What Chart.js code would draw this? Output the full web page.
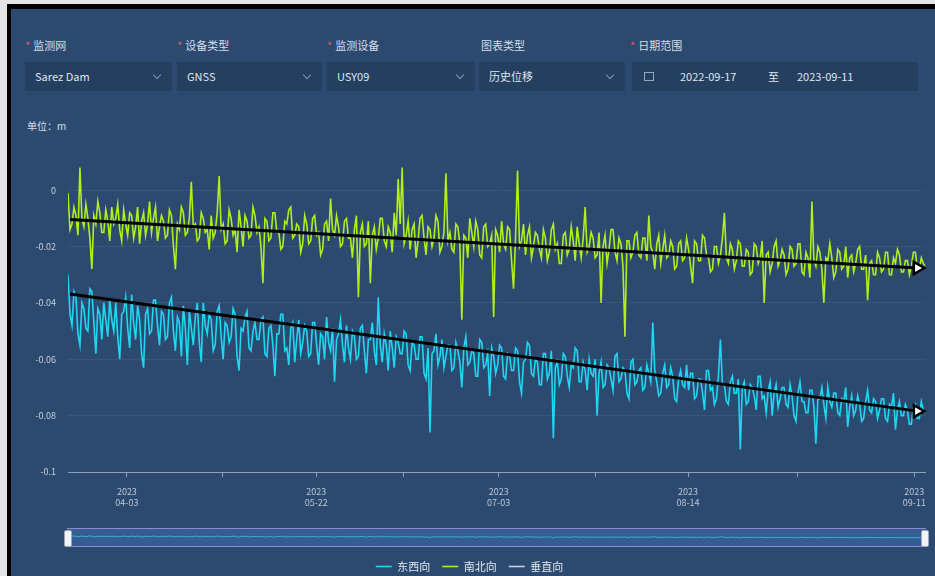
<!DOCTYPE html>
<html lang="zh-CN">
<head>
<meta charset="utf-8">
<title>历史位移</title>
<script src="https://cdn.jsdelivr.net/npm/chart.js@4.4.0/dist/chart.umd.min.js"></script>
<style>
  html, body { margin: 0; padding: 0; }
  body {
    width: 935px; height: 576px; position: relative; overflow: hidden;
    background: #e4e4e4;
    font-family: "Noto Sans CJK SC", "Noto Sans", sans-serif;
  }
  #frame { position: absolute; left: 7px; top: 4px; right: 0; bottom: 0; background: #000; }
  #panel { position: absolute; left: 11px; top: 9px; right: 0; bottom: 0; background: #2c4a6f; }
  .lbl { position: absolute; top: 38px; font-size: 11px; line-height: 14px; color: #d6dee9; }
  .lbl .req { color: #e0585b; margin-right: 3px; }
  .box {
    position: absolute; top: 62px; height: 29px; line-height: 29px;
    background: #253f60; color: #dfe6ef; font-size: 11px;
  }
  .box .txt { position: absolute; left: 10px; }
  .box .chev {
    position: absolute; right: 12px; top: 10px; width: 5px; height: 5px;
    border-right: 1px solid #8797ad; border-bottom: 1px solid #8797ad;
    transform: rotate(45deg);
  }
  .cal { position: absolute; left: 12px; top: 10px; width: 8px; height: 7px; border: 1px solid #9aa8bc; }
  #unit { position: absolute; left: 27px; top: 118px; font-size: 10px; color: #d6dee9; }
  #chartBox { position: absolute; left: 11px; top: 140px; width: 924px; height: 442px; }
  #slider {
    position: absolute; left: 67px; top: 528px; width: 859px; height: 17px;
    border-top: 1px solid rgba(196, 172, 240, 0.6);
    border-bottom: 1px solid rgba(196, 172, 240, 0.6);
    background: rgba(66, 118, 186, 0.45);
  }
  #slider canvas { position: absolute; left: 0; top: 0; }
  .handle {
    position: absolute; top: 530px; width: 6px; height: 15px; border-radius: 2px;
    background: #f2f4f8; border: 1px solid #9aa6ba;
  }
</style>
</head>
<body>
<div id="frame"></div>
<div id="panel"></div>

<div class="lbl" style="left:25px"><span class="req">*</span>监测网</div>
<div class="lbl" style="left:177px"><span class="req">*</span>设备类型</div>
<div class="lbl" style="left:327px"><span class="req">*</span>监测设备</div>
<div class="lbl" style="left:481px">图表类型</div>
<div class="lbl" style="left:630px"><span class="req">*</span>日期范围</div>

<div class="box" style="left:25px;width:147px"><span class="txt">Sarez Dam</span><span class="chev"></span></div>
<div class="box" style="left:177px;width:145px"><span class="txt">GNSS</span><span class="chev"></span></div>
<div class="box" style="left:327px;width:148px"><span class="txt">USY09</span><span class="chev"></span></div>
<div class="box" style="left:479px;width:146px"><span class="txt">历史位移</span><span class="chev"></span></div>
<div class="box" style="left:632px;width:286px">
  <span class="cal"></span>
  <span class="txt" style="left:48px">2022-09-17</span>
  <span class="txt" style="left:136px">至</span>
  <span class="txt" style="left:165px">2023-09-11</span>
</div>

<div id="unit">单位：m</div>

<div id="chartBox"><canvas id="dispChart"></canvas></div>

<div id="slider"><canvas id="zoomChart" width="859" height="17"></canvas></div>
<div class="handle" style="left:64px"></div>
<div class="handle" style="left:921px"></div>

<script>
// displacement readings in millimetres, one per sample
const eastWestMm = [
  -30, -44, -48, -36, -38, -51, -55, -40, -42, -49, -50, -35, -36, -47, -58, -42, -44, -53, -40, -46, -52, -39, -46, -50,
  -40, -52, -60, -44, -43, -38, -49, -56, -37, -47, -53, -41, -46, -58, -63, -44, -42, -51, -50, -39, -39, -48, -55, -43,
  -44, -53, -52, -40, -38, -50, -57, -45, -47, -59, -41, -49, -62, -43, -49, -55, -45, -40, -54, -61, -40, -48, -51, -44,
  -46, -57, -55, -43, -41, -52, -60, -47, -48, -54, -52, -42, -44, -59, -64, -49, -50, -45, -43, -56, -57, -50, -47, -53,
  -53, -46, -45, -58, -59, -49, -48, -55, -66, -51, -51, -44, -44, -57, -56, -62, -49, -47, -61, -53, -46, -58, -54, -48,
  -50, -59, -58, -47, -47, -55, -62, -51, -52, -60, -45, -54, -57, -49, -68, -53, -51, -46, -55, -61, -48, -56, -60, -50,
  -52, -60, -59, -49, -48, -57, -65, -53, -53, -47, -57, -62, -38, -55, -61, -51, -55, -64, -50, -56, -63, -52, -54, -58,
  -58, -50, -51, -62, -64, -54, -55, -60, -60, -52, -52, -65, -67, -56, -86, -58, -57, -51, -62, -59, -53, -63, -59, -55,
  -55, -64, -63, -54, -57, -61, -70, -56, -52, -62, -61, -57, -58, -66, -66, -53, -54, -63, -62, -58, -73, -56, -59, -65,
  -62, -55, -56, -66, -67, -58, -59, -64, -64, -56, -57, -68, -72, -61, -60, -54, -55, -65, -66, -60, -61, -69, -69, -58,
  -58, -67, -65, -57, -88, -63, -61, -69, -67, -58, -59, -66, -70, -62, -63, -56, -57, -68, -68, -61, -64, -71, -60, -65,
  -66, -60, -80, -65, -61, -70, -69, -62, -63, -67, -71, -59, -58, -68, -67, -63, -64, -72, -74, -61, -60, -69, -68, -64,
  -63, -71, -70, -62, -65, -68, -47, -64, -68, -73, -72, -65, -62, -70, -69, -63, -66, -74, -75, -67, -64, -69, -70, -62,
  -71, -65, -65, -74, -73, -67, -67, -72, -78, -64, -64, -71, -70, -76, -74, -66, -53, -69, -69, -75, -76, -68, -66, -72,
  -72, -67, -92, -70, -68, -76, -75, -69, -70, -73, -78, -66, -66, -74, -73, -79, -71, -68, -80, -72, -69, -77, -74, -70,
  -70, -76, -77, -69, -73, -80, -82, -72, -68, -75, -75, -79, -79, -71, -71, -77, -90, -74, -74, -70, -76, -81, -70, -75,
  -77, -72, -72, -79, -80, -74, -75, -70, -84, -77, -73, -80, -78, -73, -76, -82, -81, -75, -71, -78, -79, -74, -75, -81,
  -78, -74, -74, -81, -82, -76, -77, -72, -85, -78, -75, -80, -80, -76, -78, -83, -83, -77, -76, -81, -81, -75, -78, -79
];
const northSouthMm = [
  -1, -14, -12, -6, -9, -16, 8, -10, -13, -5, -10, -17, -28, -9, -12, -4, -8, -15, -15, -7, -11, -18, -6, -12,
  -10, -5, -14, -18, -7, -12, -16, -8, -9, -17, -13, -6, -19, -11, -8, -16, -12, -4, -15, -10, -6, -18, -13, -9,
  -11, -17, -16, -7, -9, -20, -28, -12, -14, -6, -8, -16, -15, -10, 3, -13, -12, -18, -17, -8, -10, -15, -14, -21,
  -9, -17, -15, -8, 5, -14, -12, -19, -18, -7, -10, -16, -14, -22, -7, -13, -20, -9, -11, -17, -16, -6, -9, -15,
  -13, -20, -33, -10, -11, -18, -17, -8, -8, -15, -15, -21, -20, -11, -12, -7, -6, -17, -16, -12, -13, -22, -19, -9,
  -12, -19, -18, -10, -9, -16, -15, -23, -21, -12, -11, -18, -3, -14, -16, -9, -13, -20, -19, -11, -10, -17, -17, -24,
  -14, -9, -38, -15, -12, -20, -19, -11, -33, -16, -13, -21, -17, -10, -10, -18, -20, -13, -15, -22, -8, -16, 4, -12,
  8, -19, -16, -11, -21, -14, -12, -24, -18, -10, -9, -17, -23, -13, -14, -20, -17, -9, -11, -22, -20, -15, 6, -18,
  -15, -21, -22, -12, -13, -19, -46, -16, -17, -24, -10, -15, -20, -11, -14, -23, -24, -13, -12, -20, -19, -16, -45, -14,
  -16, -22, -11, -19, -21, -13, -14, -25, -35, -17, 7, -20, -18, -12, -23, -16, -13, -24, -20, -15, -16, -21, -24, -14,
  -17, -25, -22, -14, -12, -21, -19, -26, -26, -16, -15, -23, -21, -13, -18, -25, -13, -19, -24, -17, -6, -22, -20, -15,
  -17, -24, -23, -15, -40, -20, -16, -26, -21, -14, -14, -22, -25, -17, -19, -27, -52, -18, -18, -24, -22, -16, -15, -23,
  -24, -17, -17, -25, -9, -20, -22, -28, -19, -16, -26, -21, -16, -24, -23, -18, -20, -28, -27, -19, -18, -25, -24, -17,
  -21, -27, -33, -18, -19, -25, -25, -16, -17, -23, -24, -29, -28, -20, -20, -26, -23, -17, -8, -24, -26, -19, -21, -28,
  -25, -18, -19, -27, -27, -21, -22, -30, -29, -19, -20, -26, -24, -18, -40, -23, -22, -29, -26, -20, -18, -27, -25, -21,
  -23, -30, -28, -20, -21, -27, -26, -19, -19, -29, -30, -22, -24, -31, -4, -25, -27, -20, -22, -28, -40, -24, -25, -19,
  -24, -31, -29, -21, -22, -28, -27, -20, -31, -24, -23, -29, -26, -21, -20, -28, -28, -23, -39, -26, -25, -30, -30, -22,
  -24, -29, -28, -22, -22, -30, -30, -24, -26, -21, -23, -29, -29, -25, -25, -30, -27, -22, -22, -28, -28, -24, -26, -27
];
const verticalMm = [];   // 垂直向 has no points in this view

const seriesNames = ["东西向", "南北向", "垂直向"];
const seriesColors = ["#1ed7f2", "#b0ee1c", "#c8d0de"];

// the two trend arrows drawn over the plot (sample index, mm)
const trendX = [1, 427];
const trendNorthSouthMm = [-10.4, -27.6];
const trendEastWestMm = [-36.8, -78.4];

// x axis ticks (sample index) and their labels
const xTickPos = [29.6, 77.7, 124.8, 168.9, 216.5, 265.1, 311.7, 366.8, 425.5];
const xTickLabels = [["2023", "04-03"], "", ["2023", "05-22"], "", ["2023", "07-03"], "", ["2023", "08-14"], "", ["2023", "09-11"]];
const yTickValues = [-0.1, -0.08, -0.06, -0.04, -0.02, 0];
const yTickLabels = ["-0.1", "-0.08", "-0.06", "-0.04", "-0.02", "0"];

Chart.defaults.font.family = '"Noto Sans CJK SC", "Noto Sans", sans-serif';

function toPoints(arr) {
  return arr.map((v, i) => ({ x: i, y: v / 1000 }));
}
function arrowPoints(ys) {
  return ys.map((v, i) => ({ x: trendX[i], y: v / 1000 }));
}
function arrowSet(ys) {
  return {
    label: "trend",
    data: arrowPoints(ys),
    borderColor: "#000",
    borderWidth: 3,
    pointRadius: [0, 7],
    pointStyle: "triangle",
    rotation: 90,
    pointBackgroundColor: "#fff",
    pointBorderColor: "#000",
    pointBorderWidth: 2.5,
    clip: false,
    order: 0
  };
}

const ctx = document.getElementById("dispChart");
new Chart(ctx, {
  type: "line",
  data: {
    datasets: [
      { label: seriesNames[0], data: toPoints(eastWestMm), borderColor: seriesColors[0], backgroundColor: seriesColors[0],
        borderWidth: 1.6, pointRadius: 0, order: 2 },
      { label: seriesNames[1], data: toPoints(northSouthMm), borderColor: seriesColors[1], backgroundColor: seriesColors[1],
        borderWidth: 1.6, pointRadius: 0, order: 1 },
      { label: seriesNames[2], data: toPoints(verticalMm), borderColor: seriesColors[2], backgroundColor: seriesColors[2],
        borderWidth: 1.6, pointRadius: 0, order: 3 },
      arrowSet(trendNorthSouthMm),
      arrowSet(trendEastWestMm)
    ]
  },
  options: {
    animation: false,
    responsive: true,
    maintainAspectRatio: false,
    layout: { padding: { top: 22, right: 7, left: 0, bottom: 0 }, autoPadding: false },
    scales: {
      x: {
        type: "linear",
        min: 0,
        max: 431,
        afterBuildTicks: (s) => { s.ticks = xTickPos.map(v => ({ value: v })); },
        afterFit: (s) => { s.height = 77; },
        grid: { drawOnChartArea: false, tickLength: 5, tickColor: "#8ea0ba" },
        border: { color: "#8ea0ba", width: 1 },
        ticks: {
          callback: (v, i) => xTickLabels[i],
          autoSkip: false, maxRotation: 0, padding: 9,
          color: "#b9c5d6", font: { size: 9 }
        }
      },
      y: {
        min: -0.1,
        max: 0.01,
        afterBuildTicks: (s) => { s.ticks = yTickValues.map(v => ({ value: v })); },
        afterFit: (s) => { s.width = 57; },
        grid: { color: "rgba(255,255,255,0.06)", drawTicks: false },
        border: { display: false },
        ticks: {
          callback: (v, i) => yTickLabels[i],
          padding: 12, color: "#c3cedd", font: { size: 9 }
        }
      }
    },
    plugins: {
      legend: {
        position: "bottom",
        labels: {
          filter: (item) => item.datasetIndex < 3,
          sort: (a, b) => a.datasetIndex - b.datasetIndex,
          usePointStyle: true,
          pointStyle: "line",
          pointStyleWidth: 16,
          color: "#e3e9f2",
          font: { size: 11 },
          padding: 12
        }
      },
      tooltip: { enabled: false }
    }
  }
});

// small overview inside the zoom slider
new Chart(document.getElementById("zoomChart"), {
  type: "line",
  data: {
    datasets: [{ data: toPoints(eastWestMm), borderColor: "rgba(60,210,240,0.7)", borderWidth: 1, pointRadius: 0 }]
  },
  options: {
    animation: false,
    responsive: false,
    layout: { padding: 0 },
    scales: {
      x: { type: "linear", min: 0, max: 431, display: false },
      y: { min: -0.3, max: 0.15, display: false }
    },
    plugins: { legend: { display: false }, tooltip: { enabled: false } }
  }
});
</script>
</body>
</html>
